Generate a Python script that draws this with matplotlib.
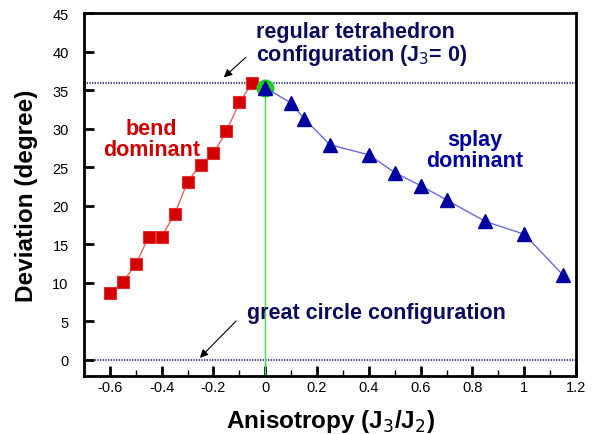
import matplotlib
matplotlib.use("Agg")
import matplotlib.pyplot as plt
from matplotlib.ticker import MultipleLocator

plt.rcParams['font.family'] = ['Liberation Sans', 'DejaVu Sans']

bend_x = [-0.6, -0.55, -0.5, -0.45, -0.4, -0.35, -0.3, -0.25, -0.2, -0.15, -0.1, -0.05]
bend_y = [8.7, 10.1, 12.4, 16.0, 16.0, 18.9, 23.1, 25.3, 26.8, 29.65, 33.4, 35.9]
splay_x = [0.0, 0.1, 0.15, 0.25, 0.4, 0.5, 0.6, 0.7, 0.85, 1.0, 1.15]
splay_y = [35.3, 33.3, 31.3, 27.9, 26.6, 24.3, 22.6, 20.75, 17.95, 16.3, 11.0]
tetra_x = [0.0]
tetra_y = [35.3]
ref_levels = [35.9, 0.0]
x_ticks = [-0.6, -0.4, -0.2, 0, 0.2, 0.4, 0.6, 0.8, 1, 1.2]
x_tick_labels = ['-0.6', '-0.4', '-0.2', '0', '0.2', '0.4', '0.6', '0.8', '1', '1.2']
y_ticks = [0, 5, 10, 15, 20, 25, 30, 35, 40, 45]

fig = plt.figure(figsize=(5.97, 4.35), dpi=100)
ax = fig.add_axes([84/597, 1-377/435, (576-84)/597, (377-14)/435])
ax.set_xlim(-0.7, 1.2)
ax.set_ylim(-2.1, 45)

dot_color = '#4a4a8c'
for lv in ref_levels:
    ax.axhline(lv, color=dot_color, lw=1.6, linestyle=(0, (0.6, 0.6)), zorder=1)

# green vertical line
ax.plot([tetra_x[0], tetra_x[0]], [-2.1, tetra_y[0]], color='#44dd44', lw=1.0, zorder=2)

ax.plot(bend_x, bend_y, color='#f06060', lw=1.0, marker='s', markersize=9,
        markerfacecolor='#d40000', markeredgecolor='#e03030', markeredgewidth=0.8, zorder=3)
ax.plot(tetra_x, tetra_y, linestyle='none', marker='o', markersize=12,
        markerfacecolor='#22cc22', markeredgecolor='#22cc22', zorder=4)
ax.plot(splay_x, splay_y, color='#6a6ae0', lw=1.0, marker='^', markersize=10,
        markerfacecolor='#0000a0', markeredgecolor='#0000a0', zorder=5)

ax.set_xticks(x_ticks)
ax.set_xticklabels(x_tick_labels)
ax.set_yticks(y_ticks)
ax.xaxis.set_minor_locator(MultipleLocator(0.1))
ax.tick_params(axis='both', which='major', direction='in', length=7, width=2,
               labelsize=10.5, right=False, top=False)
ax.tick_params(axis='x', which='major', pad=3)
ax.tick_params(axis='y', which='major', pad=11)
ax.tick_params(axis='x', which='minor', direction='in', length=4, width=1, top=False)
for s in ax.spines.values():
    s.set_linewidth(2)

ax.set_xlabel('Anisotropy (J$_3$/J$_2$)', fontsize=17.5, fontweight='bold', labelpad=9)
ax.set_ylabel('Deviation (degree)', fontsize=17.5, fontweight='bold', labelpad=10)

navy = '#0c0c5c'
ax.text(-0.036, 38.0, 'regular tetrahedron\nconfiguration (J$_3$= 0)', color=navy,
        fontsize=15.5, fontweight='bold', ha='left', va='bottom', linespacing=1.0)
ax.annotate('', xy=(-0.168, 36.4), xytext=(-0.067, 39.5),
            arrowprops=dict(arrowstyle='-|>', color='black', lw=0.8, mutation_scale=12))
ax.text(-0.072, 6.1, 'great circle configuration', color=navy,
        fontsize=15.5, fontweight='bold', ha='left', va='center')
ax.annotate('', xy=(-0.26, 0.0), xytext=(-0.105, 5.3),
            arrowprops=dict(arrowstyle='-|>', color='black', lw=0.8, mutation_scale=12))
ax.text(-0.44, 28.7, 'bend\ndominant', color='#d40000', fontsize=15.5, fontweight='bold',
        ha='center', va='center', linespacing=1.0)
ax.text(0.81, 27.2, 'splay\ndominant', color='#0000a0', fontsize=15.5, fontweight='bold',
        ha='center', va='center', linespacing=1.0)

fig.savefig('out.png', dpi=100)
